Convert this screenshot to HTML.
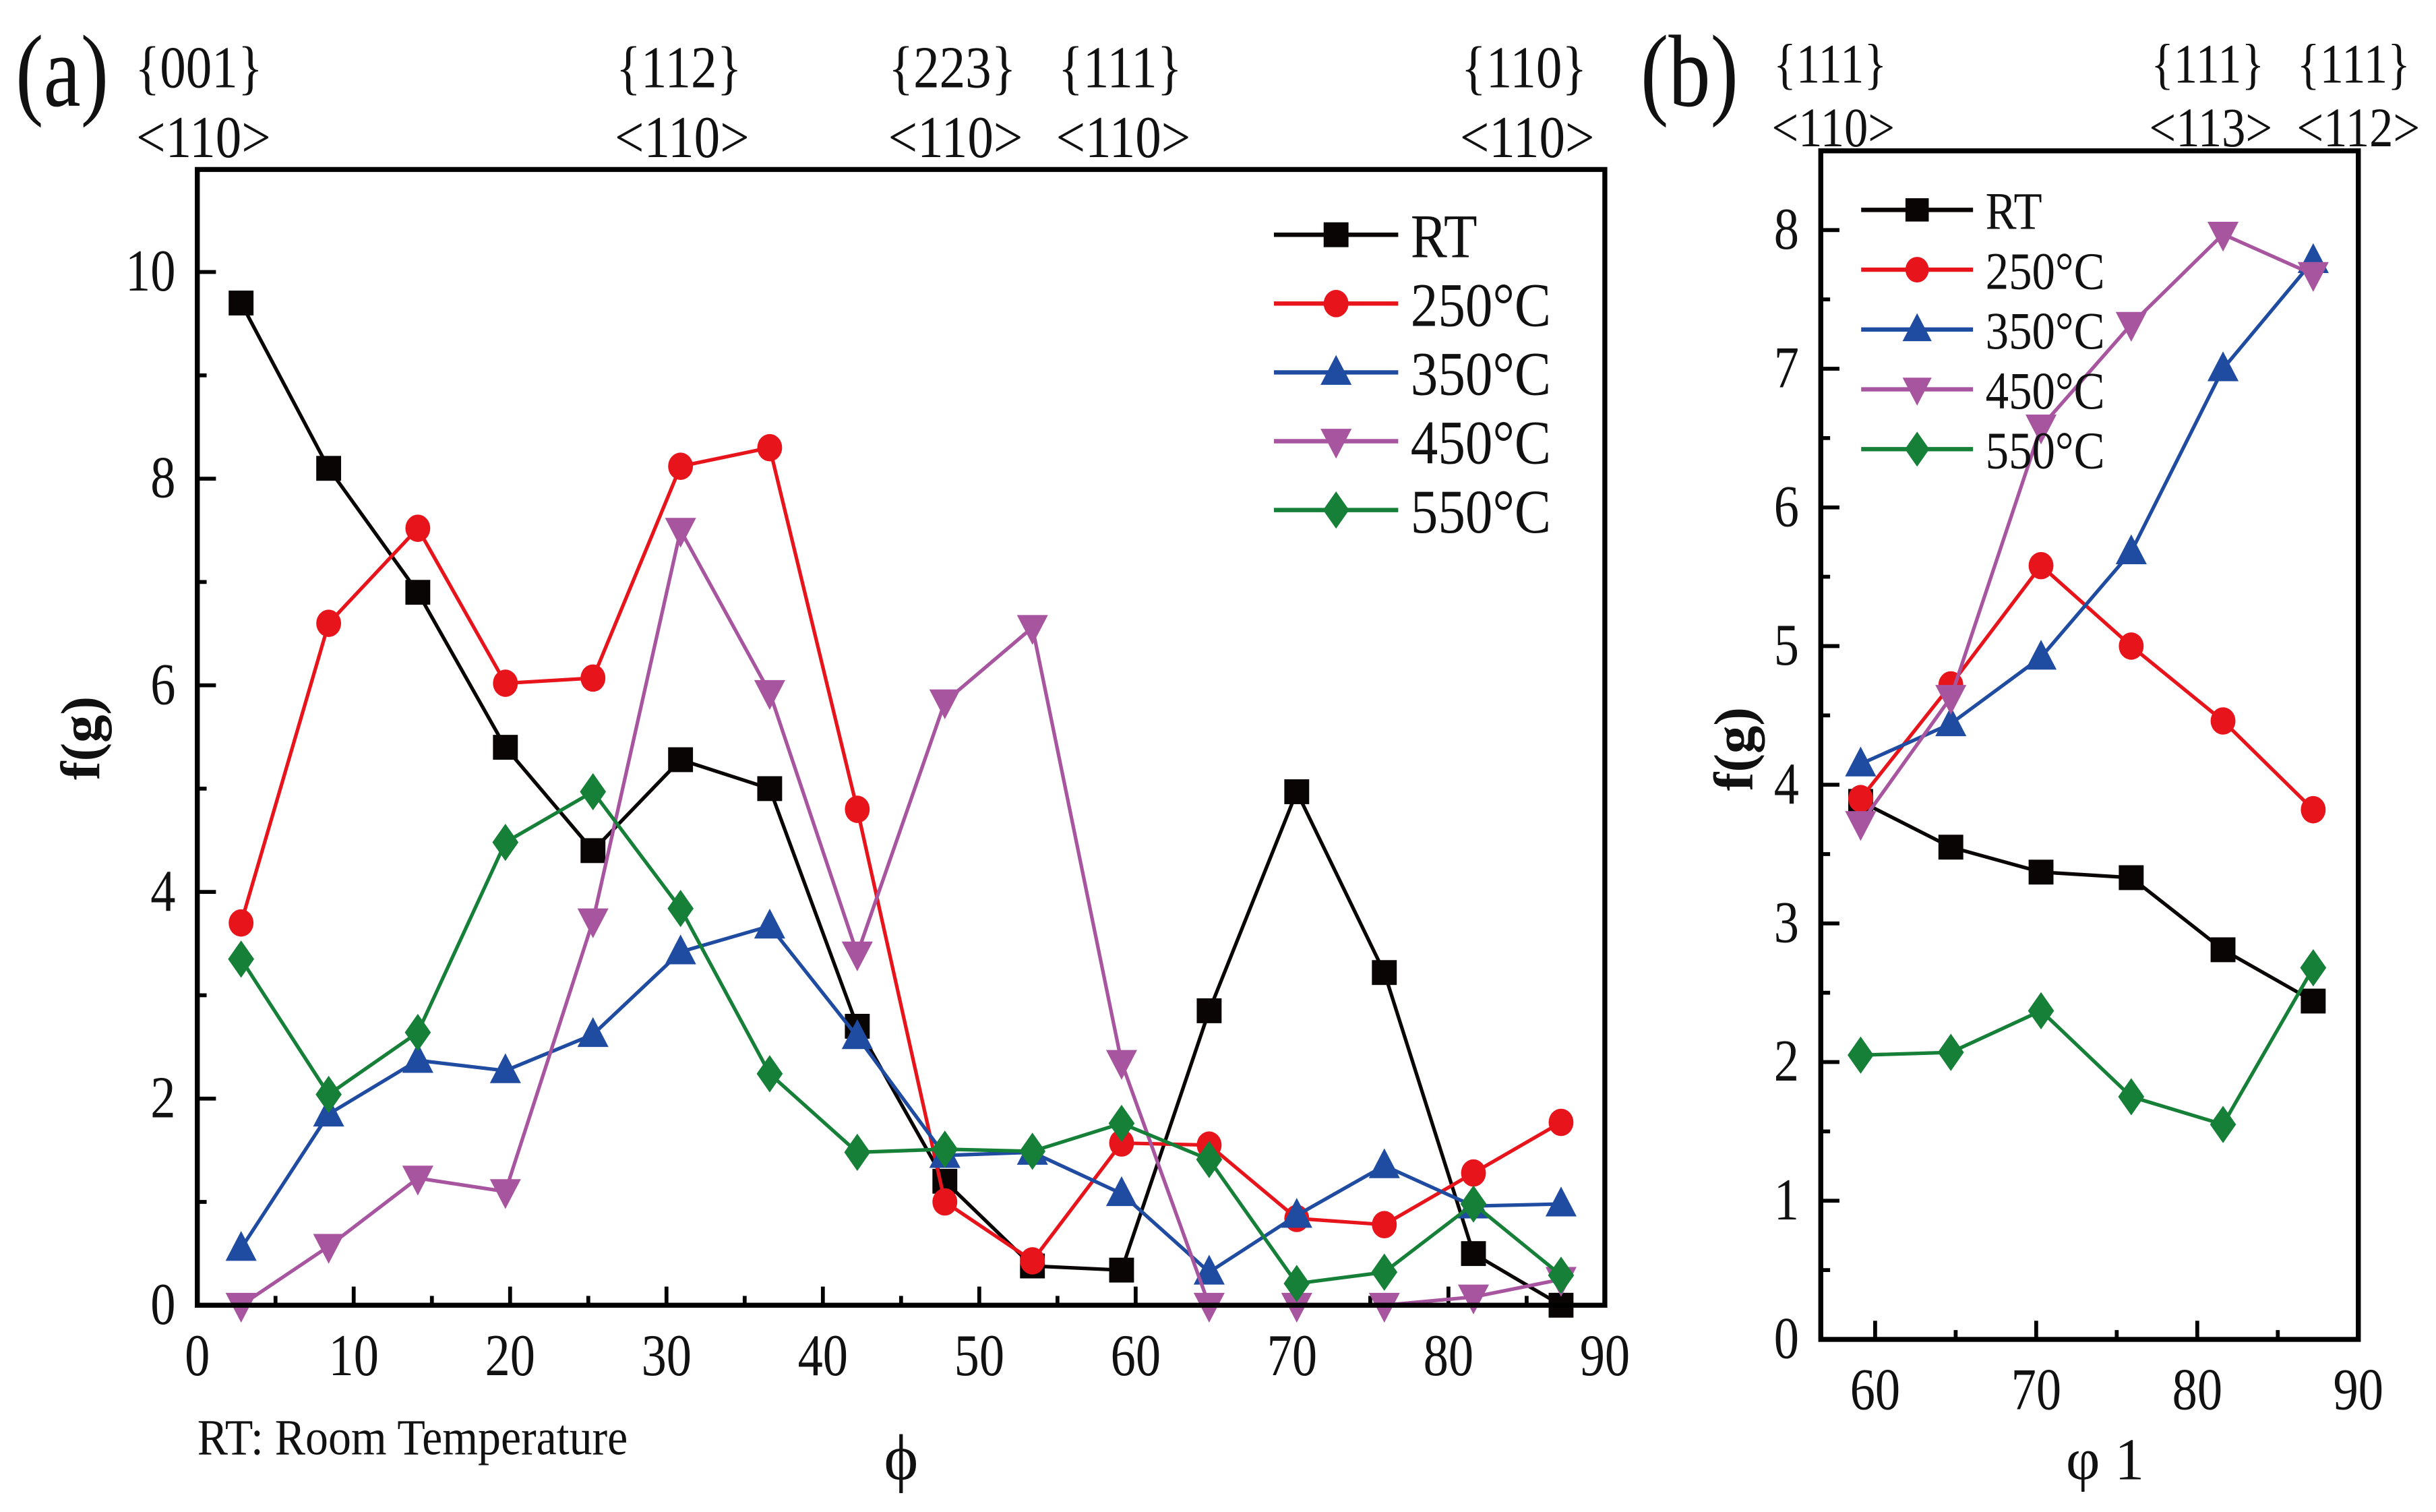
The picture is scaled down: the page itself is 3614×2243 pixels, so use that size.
<!DOCTYPE html>
<html><head><meta charset="utf-8"><style>
html,body{margin:0;padding:0;background:#fff;}
svg{display:block;}
text{font-family:"Liberation Serif",serif;fill:#111;}
</style></head><body>
<svg id="fig" width="3614" height="2243" viewBox="0 0 1568 973" xmlns="http://www.w3.org/2000/svg">
<g id="static">
<text transform="translate(10,68) scale(0.9,1.1)" font-size="60">(a)</text>
<text transform="translate(1056,68) scale(0.9,1.1)" font-size="60">(b)</text>
<g font-size="38" text-anchor="middle">
<text transform="translate(128,56) scale(0.88,1)">{001}</text><text transform="translate(131,101) scale(0.88,1)">&lt;110&gt;</text>
<text transform="translate(437,56) scale(0.88,1)">{112}</text><text transform="translate(439,101) scale(0.88,1)">&lt;110&gt;</text>
<text transform="translate(613,56) scale(0.88,1)">{223}</text><text transform="translate(615,101) scale(0.88,1)">&lt;110&gt;</text>
<text transform="translate(721,56) scale(0.88,1)">{111}</text><text transform="translate(723,101) scale(0.88,1)">&lt;110&gt;</text>
<text transform="translate(981,56) scale(0.88,1)">{110}</text><text transform="translate(983,101) scale(0.88,1)">&lt;110&gt;</text>
</g>
<g font-size="36" text-anchor="middle">
<text transform="translate(1178,53) scale(0.85,1)">{111}</text><text transform="translate(1180,94) scale(0.85,1)">&lt;110&gt;</text>
<text transform="translate(1421,53) scale(0.85,1)">{111}</text><text transform="translate(1423,94) scale(0.85,1)">&lt;113&gt;</text>
<text transform="translate(1515,53) scale(0.85,1)">{111}</text><text transform="translate(1518,94) scale(0.85,1)">&lt;112&gt;</text>
</g>
<text font-size="36" font-weight="bold" text-anchor="middle" transform="translate(64,475) rotate(-90)">f(g)</text>
<text font-size="36" font-weight="bold" text-anchor="middle" transform="translate(1128,482) rotate(-90)">f(g)</text>
<text x="580" y="952" font-size="42" text-anchor="middle">ϕ</text>
<text x="1355" y="952" font-size="38" text-anchor="middle">φ 1</text>
<text transform="translate(127,936) scale(0.95,1.05)" font-size="31">RT: Room Temperature</text>
</g>
</svg>
<script>
// Panel (a) data
const phiA = [2.8, 8.4, 14.1, 19.7, 25.3, 30.9, 36.6, 42.2, 47.8, 53.4, 59.1, 64.7, 70.3, 75.9, 81.6, 87.2];
const rtA  = [9.7, 8.1, 6.9, 5.4, 4.4, 5.28, 5.0, 2.7, 1.2, 0.38, 0.34, 2.85, 4.97, 3.22, 0.5, 0.0];
const t250A = [3.7, 6.6, 7.52, 6.02, 6.07, 8.12, 8.3, 4.8, 1.0, 0.43, 1.57, 1.55, 0.84, 0.78, 1.28, 1.77];
const t350A = [0.55, 1.85, 2.37, 2.27, 2.62, 3.42, 3.67, 2.6, 1.45, 1.48, 1.08, 0.32, 0.87, 1.35, 0.96, 0.98];
const t450A = [0.0, 0.57, 1.23, 1.1, 3.72, 7.5, 5.93, 3.4, 5.84, 6.56, 2.35, 0.0, 0.0, 0.0, 0.08, 0.25];
const t550A = [3.35, 2.04, 2.64, 4.48, 4.97, 3.84, 2.24, 1.48, 1.51, 1.49, 1.76, 1.41, 0.21, 0.32, 0.98, 0.29];
const xTicksA = [0,10,20,30,40,50,60,70,80,90];
const yTicksA = [0,2,4,6,8,10];
// Panel (b) data
const phiB = [59.1, 64.7, 70.3, 75.9, 81.6, 87.2];
const rtB  = [3.88, 3.55, 3.37, 3.33, 2.81, 2.44];
const t250B = [3.9, 4.72, 5.58, 5.0, 4.46, 3.82];
const t350B = [4.15, 4.44, 4.92, 5.68, 7.0, 7.78];
const t450B = [3.72, 4.63, 6.58, 7.32, 7.97, 7.68];
const t550B = [2.05, 2.07, 2.37, 1.75, 1.55, 2.68];
const xTicksB = [60,70,80,90];
const yTicksB = [0,1,2,3,4,5,6,7,8];
const seriesNames = ["RT","250°C","350°C","450°C","550°C"];

const NS = "http://www.w3.org/2000/svg";
const svg = document.getElementById("fig");
const colors = ["#0a0505","#e8141c","#1f4ba0","#a855a0","#168039"];
const shapes = ["square","circle","up","down","diamond"];
const keys = ["rt","t250","t350","t450","t550"];

function mk(tag, attrs, parent){
  const e = document.createElementNS(NS, tag);
  for (const k in attrs) e.setAttribute(k, attrs[k]);
  (parent||svg).appendChild(e);
  return e;
}
function marker(shape, cx, cy, s, color, parent){
  let e;
  if (shape==="square") e = mk("rect",{x:cx-s,y:cy-s,width:2*s,height:2*s,fill:color},parent);
  else if (shape==="circle") e = mk("ellipse",{cx:cx,cy:cy,rx:s,ry:s*1.1,fill:color},parent);
  else if (shape==="up") e = mk("polygon",{points:`${cx},${cy-s*1.4} ${cx-s*1.25},${cy+s*1.0} ${cx+s*1.25},${cy+s*1.0}`,fill:color},parent);
  else if (shape==="down") e = mk("polygon",{points:`${cx},${cy+s*1.4} ${cx-s*1.25},${cy-s*1.0} ${cx+s*1.25},${cy-s*1.0}`,fill:color},parent);
  else e = mk("polygon",{points:`${cx},${cy-s*1.5} ${cx+s*1.05},${cy} ${cx},${cy+s*1.5} ${cx-s*1.05},${cy}`,fill:color},parent);
  return e;
}

function panel(cfg){
  const {L,R,T,B,x0,x1,y0,y1,xs,ys,data,xTicks,xMinor,yTicks,yMinor,tag,leg,legFont,ms} = cfg;
  const X = v => L + (v - x0)/(x1 - x0)*(R - L);
  const Y = v => B - (v - y0)/(y1 - y0)*(B - T);
  const g = mk("g",{});
  
  
  xTicks.forEach(v=>{
    const t = mk("line",{x1:X(v),x2:X(v),y1:B,y2:B-12,stroke:"#000","stroke-width":2.5},g);
    
    
    const lb = mk("text",{transform:`translate(${X(v)},${B+45}) scale(0.85,1)`,"font-size":38,"text-anchor":"middle"},g);
    
    
    lb.textContent = v;
  });
  xMinor.forEach(v=>{
    const t = mk("line",{x1:X(v),x2:X(v),y1:B,y2:B-6,stroke:"#000","stroke-width":2.5},g);
    
    
  });
  yTicks.forEach(v=>{
    const t = mk("line",{x1:L,x2:L+12,y1:Y(v),y2:Y(v),stroke:"#000","stroke-width":2.5},g);
    
    
    const lb = mk("text",{transform:`translate(${L-14},${Y(v)+12}) scale(0.85,1)`,"font-size":38,"text-anchor":"end"},g);
    
    
    lb.textContent = v;
  });
  yMinor.forEach(v=>{
    const t = mk("line",{x1:L,x2:L+6,y1:Y(v),y2:Y(v),stroke:"#000","stroke-width":2.5},g);
    
    
  });
  data.forEach((vals,i)=>{
    const sg = mk("g",{},g);
    
    
    const pts = vals.map((v,j)=>X(xs[j])+","+Y(v)).join(" ");
    const pl = mk("polyline",{points:pts,fill:"none",stroke:colors[i],"stroke-width":2.3,"stroke-linejoin":"miter"},sg);
    
    
    vals.forEach((v,j)=>{
      const m = marker(shapes[i], X(xs[j]), Y(v), ms, colors[i], sg);
      
      
    });
  });
  const fr = mk("rect",{x:L,y:T,width:R-L,height:B-T,fill:"none",stroke:"#000","stroke-width":3.2},g);
  
  
  const lg = mk("g",{},g);
  
  
  seriesNames.forEach((nm,i)=>{
    const y = leg.y0 + i*leg.dy;
    const eg = mk("g",{},lg);
    
    
    mk("line",{x1:leg.x1,x2:leg.x2,y1:y,y2:y,stroke:colors[i],"stroke-width":2.8},eg);
    marker(shapes[i], (leg.x1+leg.x2)/2, y, leg.ms, colors[i], eg);
    const t = mk("text",{transform:`translate(${leg.x2+8},${y+legFont*0.36}) scale(0.88,1)`,"font-size":legFont},eg);
    t.textContent = nm;
  });
}

panel({L:127,R:1033,T:109,B:840,x0:0,x1:90,y0:0,y1:(840-109)/66.5,
  xs:phiA,data:[rtA,t250A,t350A,t450A,t550A],xTicks:xTicksA,xMinor:[5,15,25,35,45,55,65,75,85],
  yTicks:yTicksA,yMinor:[1,3,5,7,9],tag:"a",ms:8,
  leg:{x1:820,x2:900,y0:151,dy:44.3,ms:8},legFont:40});
panel({L:1172,R:1518,T:97,B:862,x0:60-(1207-1172)/10.37,x1:90,y0:0,y1:(862-97)/89.25,
  xs:phiB,data:[rtB,t250B,t350B,t450B,t550B],xTicks:xTicksB,xMinor:[65,75,85],
  yTicks:yTicksB,yMinor:[0.5,1.5,2.5,3.5,4.5,5.5,6.5,7.5],tag:"b",ms:8,
  leg:{x1:1198,x2:1270,y0:135,dy:38.5,ms:7.5},legFont:34});
</script>
</body></html>
